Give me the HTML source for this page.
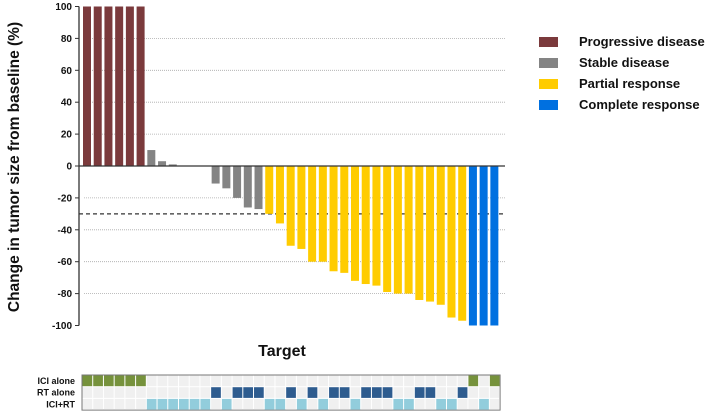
<!DOCTYPE html>
<html><head><meta charset="utf-8"><style>
body{margin:0;background:#fff;width:709px;height:414px;overflow:hidden;font-family:"Liberation Sans",sans-serif}
</style></head><body>
<svg id="chart" width="709" height="414" xmlns="http://www.w3.org/2000/svg" font-family="Liberation Sans, sans-serif">
<g id="grid"></g><g id="bars"></g><g id="axis"></g><g id="heat"></g>
<text transform="translate(19,167) rotate(-90)" text-anchor="middle" font-size="15.5" font-weight="bold" fill="#111">Change in tumor size from baseline (%)</text>
<text x="282" y="356" text-anchor="middle" font-size="16" font-weight="bold" fill="#111">Target</text>
<g font-size="13" font-weight="bold" fill="#111">
<rect x="539" y="37" width="19" height="10" fill="#7b3a3c"/>
<text x="579" y="46">Progressive disease</text>
<rect x="539" y="58" width="19" height="10" fill="#848484"/>
<text x="579" y="67">Stable disease</text>
<rect x="539" y="79" width="19" height="10" fill="#ffcc00"/>
<text x="579" y="88">Partial response</text>
<rect x="539" y="100" width="19" height="10" fill="#0070e0"/>
<text x="579" y="109">Complete response</text>
</g>
</svg>
<script>
const values=[100,100,100,100,100,100,10,3,1,0,0,0,-11,-14,-20,-26,-27,-30,-36,-50,-52,-60,-60,-66,-67,-72,-74,-75,-79,-80,-80,-84,-85,-87,-95,-97,-100,-100,-100];
const responses=["PD","PD","PD","PD","PD","PD","SD","SD","SD","SD","SD","SD","SD","SD","SD","SD","SD","PR","PR","PR","PR","PR","PR","PR","PR","PR","PR","PR","PR","PR","PR","PR","PR","PR","PR","PR","CR","CR","CR"];
const treatment=[0,0,0,0,0,0,2,2,2,2,2,2,1,2,1,1,1,2,2,1,2,1,2,1,1,2,1,1,1,2,2,1,1,2,2,1,0,2,0];
const yTicks=[100,80,60,40,20,0,-20,-40,-60,-80,-100];
const rowLabels=["ICI alone","RT alone","ICI+RT"];
const NS="http://www.w3.org/2000/svg";
const colors={PD:"#7b3a3c",SD:"#848484",PR:"#ffcc00",CR:"#0070e0"};
const x0=82,step=10.72,bw=8;
function y(v){return 166-v*1.595;}
function xs(i){return x0+i*step;}
function mk(tag,a,p){const e=document.createElementNS(NS,tag);for(const k in a)e.setAttribute(k,a[k]);p.appendChild(e);return e;}
const grid=document.getElementById('grid'),bars=document.getElementById('bars'),axis=document.getElementById('axis'),heat=document.getElementById('heat');
yTicks.forEach(t=>{
 if(t!==0&&t!==100&&t!==-100){const l=mk('line',{x1:84,x2:505,y1:y(t),y2:y(t),stroke:'#aaa','stroke-width':0.8,'stroke-dasharray':'1,1'},grid);
 
 }
 const tk=mk('line',{x1:75,x2:79,y1:y(t),y2:y(t),stroke:'#333'},axis);
 
 
 const tx=mk('text',{x:72,y:y(t)+3.5,'text-anchor':'end','font-size':10,'font-weight':'bold',fill:'#111'},axis);
 tx.textContent=t;
 
 
});
const th=mk('line',{x1:79,x2:505,y1:y(-30),y2:y(-30),stroke:'#333','stroke-width':1.2,'stroke-dasharray':'4,3'},grid);


values.forEach((v,i)=>{
 const top=Math.min(y(v),y(0)),h=Math.abs(y(v)-y(0));
 const r=mk('rect',{x:xs(i)+1,y:top,width:bw,height:h,fill:colors[responses[i]]},bars);
 
 
});
const ya=mk('line',{x1:79,x2:79,y1:y(100),y2:y(-100),stroke:'#333','stroke-width':1.3},axis);


const za=mk('line',{x1:79,x2:505,y1:y(0),y2:y(0),stroke:'#333','stroke-width':1.3},axis);


const hy=375,rh=11.7,hc=["#76923c","#2e5c8f","#92cddc"];
mk('rect',{x:x0,y:hy,width:step*values.length,height:rh*3,fill:'#ffffff',stroke:'#777'},heat);
for(let r=0;r<3;r++){
 const lb=mk('text',{x:75,y:hy+r*rh+9,'text-anchor':'end','font-size':9,'font-weight':'bold',fill:'#111'},heat);
 lb.textContent=rowLabels[r];
 
 
 for(let i=0;i<values.length;i++){
  const c=mk('rect',{x:xs(i)+0.5,y:hy+r*rh+0.5,width:step-1,height:rh-1,fill:treatment[i]===r?hc[r]:'#f0f0f0'},heat);
  
  
 }
}
</script>
</body></html>
